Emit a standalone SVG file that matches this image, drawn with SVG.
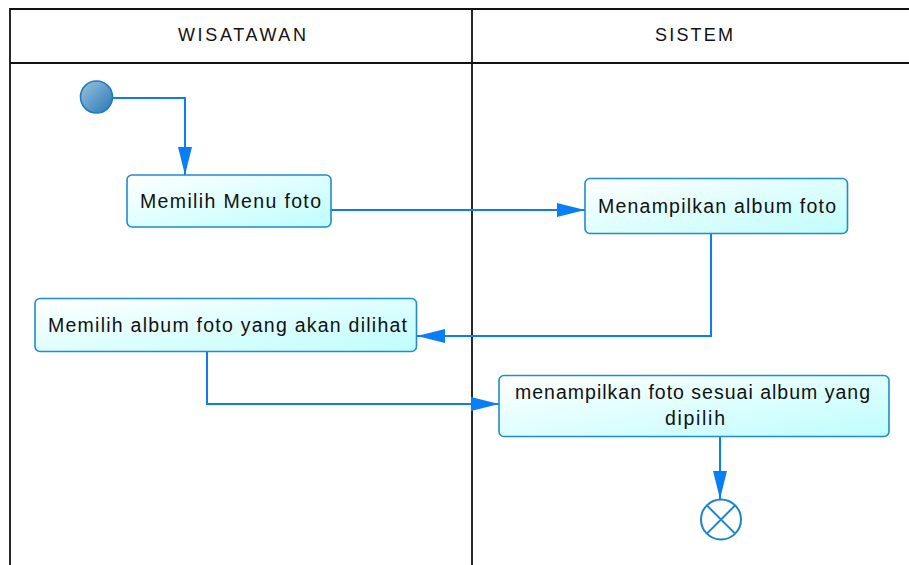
<svg xmlns="http://www.w3.org/2000/svg" width="909" height="565" viewBox="0 0 909 565">
<defs>
<linearGradient id="boxFill" x1="0" y1="0" x2="1" y2="1">
<stop offset="0" stop-color="#ffffff"/>
<stop offset="1" stop-color="#bffdfd"/>
</linearGradient>
<linearGradient id="startFill" x1="0" y1="0" x2="1" y2="1">
<stop offset="0" stop-color="#9cc4de"/>
<stop offset="1" stop-color="#2776b4"/>
</linearGradient>
<marker id="arr" markerWidth="28" markerHeight="14" refX="28" refY="7" orient="auto" markerUnits="userSpaceOnUse">
<path d="M0,0 L28,7 L0,14 Z" fill="#0a7ff5"/>
</marker>
<style>
.lane{stroke:#111;stroke-width:1.8;fill:none}
.hdr{font-family:"Liberation Sans",Arial,sans-serif;font-size:18px;fill:#111;text-anchor:middle}
.box{fill:url(#boxFill);stroke:#1f8ccc;stroke-width:1.6}
.lbl{font-family:"Liberation Sans",Arial,sans-serif;font-size:19.5px;fill:#111;text-anchor:middle}
.edge{stroke:#0a7ff5;stroke-width:2;fill:none}
</style>
</defs>
<rect width="909" height="565" fill="#ffffff"/>
<g id="lanes">
<path class="lane" d="M10,565 V9 H909 M10,63 H909 M472,9 V565"/>
<text class="hdr" x="242" y="41" textLength="128" lengthAdjust="spacing">WISATAWAN</text>
<text class="hdr" x="694" y="41" textLength="78" lengthAdjust="spacing">SISTEM</text>
</g>
<g id="connectors">
<path class="edge" d="M113,98 H185 V175" marker-end="url(#arr)"/>
<path class="edge" d="M331,210 H585" marker-end="url(#arr)"/>
<path class="edge" d="M711,233 V336 H417" marker-end="url(#arr)"/>
<path class="edge" d="M207,352 V404 H499" marker-end="url(#arr)"/>
<path class="edge" d="M720,437 V499" marker-end="url(#arr)"/>
</g>
<g id="start">
<circle cx="96.5" cy="97" r="16" fill="url(#startFill)" stroke="#1a7cc2" stroke-width="1.6"/>
</g>
<g id="n1">
<rect class="box" x="127" y="175" width="204" height="52" rx="5"/>
<text class="lbl" x="230.5" y="208" textLength="181" lengthAdjust="spacing">Memilih Menu foto</text>
</g>
<g id="n2">
<rect class="box" x="585" y="178.5" width="262.5" height="55" rx="5"/>
<text class="lbl" x="717" y="213" textLength="238" lengthAdjust="spacing">Menampilkan album foto</text>
</g>
<g id="n3">
<rect class="box" x="35" y="298.5" width="381.5" height="53" rx="5"/>
<text class="lbl" x="227.5" y="332" textLength="359" lengthAdjust="spacing">Memilih album foto yang akan dilihat</text>
</g>
<g id="n4">
<rect class="box" x="499" y="375.5" width="390" height="61" rx="5"/>
<text class="lbl" x="692.5" y="399" textLength="355" lengthAdjust="spacing">menampilkan foto sesuai album yang</text>
<text class="lbl" x="695" y="425" textLength="60" lengthAdjust="spacing">dipilih</text>
</g>
<g id="end">
<circle cx="721" cy="519.5" r="20" fill="#ffffff" stroke="#1a86c8" stroke-width="2"/>
<path d="M706.9,505.4 L735.1,533.6 M735.1,505.4 L706.9,533.6" stroke="#1a86c8" stroke-width="2"/>
</g>
</svg>
